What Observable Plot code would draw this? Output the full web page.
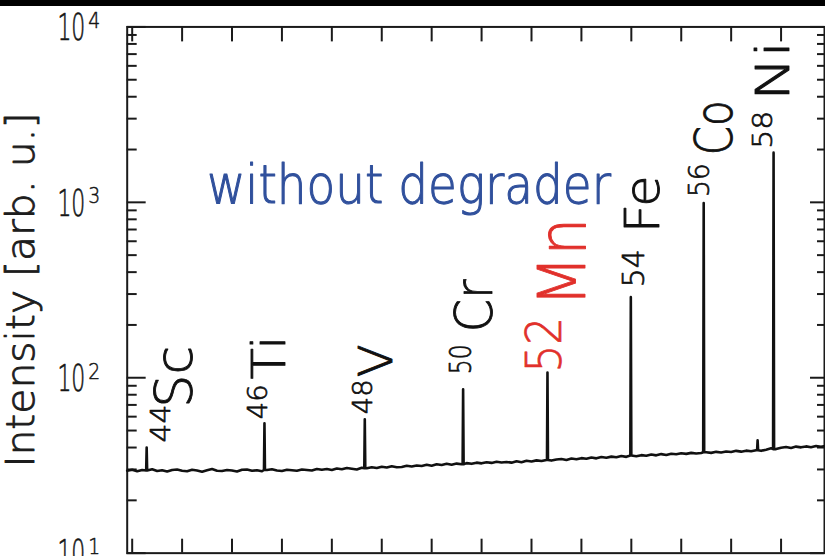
<!DOCTYPE html>
<html>
<head>
<meta charset="utf-8">
<script src="https://cdn.jsdelivr.net/npm/d3@7"></script>
<script src="https://cdn.jsdelivr.net/npm/@observablehq/plot@0.6"></script>
<style>
  html, body { margin: 0; padding: 0; background: #fff; overflow: hidden; }
  #wrap { position: relative; width: 825px; height: 556px; overflow: hidden; }
  #topbar { position: absolute; left: 0; top: 0; width: 825px; height: 6px; background: #000; z-index: 2; }
</style>
</head>
<body>
<div id="wrap"><div id="topbar"></div></div>
<script>
// Isotope peaks in the spectrum
const peakMass = ["44", "46", "48", "50", "52", "54", "56", "58"];
const peakElement = ["Sc", "Ti", "V", "Cr", "Mn", "Fe", "Co", "Ni"];
const peakChannel = [29, 265, 466, 663, 832, 999, 1145, 1285];
const peakCounts = [40, 55, 58, 86, 107, 288, 990, 1920];

// Small unlabeled bump before the Ni line
const bumpChannel = [1253];
const bumpCounts = [44];

// Background level, one reading every 10 channels starting at channel -10
const bgStart = -10;
const bgStep = 10;
const background = [
  29.5, 29.9, 29.3, 29.8, 29.6, 30.1, 29.4, 29.7, 29.2, 29.8,
  30.0, 29.5, 29.3, 29.9, 29.6, 29.1, 29.7, 30.2, 29.5, 29.4,
  29.8, 29.6, 29.2, 29.9, 30.0, 29.5, 29.7, 29.3, 29.8, 30.1,
  29.6, 29.4, 29.9, 29.7, 29.5, 30.0, 29.8, 29.6, 30.2,
  29.9, 30.2, 29.8, 30.4, 30.1, 30.6, 30.3, 30.0, 30.7, 30.5,
  30.9, 30.6, 31.1, 30.8, 31.3, 30.9, 31.0, 31.5, 31.2, 31.6,
  31.4, 31.9, 31.5, 32.1, 31.8, 32.3, 31.9, 32.4, 32.1, 32.6,
  32.3, 32.8, 32.5, 33.0, 32.7, 33.2, 32.9,
  33.1, 32.8, 33.4, 33.0, 33.6, 33.3, 33.8, 33.5, 34.0, 33.7,
  34.2, 34.4, 34.0, 34.6, 34.3, 34.8, 34.5, 35.1, 34.7, 35.3,
  35.0, 35.5, 35.2, 35.8, 35.4, 36.0, 35.7, 36.2, 35.9, 36.5,
  36.1, 36.7, 36.3, 36.9, 36.6, 37.1, 36.8, 37.3, 37.0,
  37.2, 37.6, 37.3, 37.8, 37.5, 38.0, 37.7, 38.3, 37.9, 38.4,
  38.1, 38.6, 38.3, 38.9, 39.6, 39.2, 39.9, 40.3, 39.8, 40.5,
  40.1, 40.6, 40.2, 40.8, 40.4, 40.9
];

// Axis ticks
const yMajor = [10, 100, 1000, 10000];
const yMinor = [2, 3, 4, 5, 6, 7, 8, 9].flatMap((m) => [10, 100, 1000].map((d) => m * d));
const xTicks = d3.range(0, 1301, 100);

const yTitle = "Intensity [arb. u.]";
const note = "without degrader";

// Assemble the spectrum: background readings plus a narrow spike per line
const bg = background.map((v, i) => ({ch: bgStart + i * bgStep, counts: v}));
const nearestBg = (c) => bg[Math.max(0, Math.min(bg.length - 1, Math.round((c - bgStart) / bgStep)))].counts;
const spikes = [...peakChannel.map((c, i) => [c, peakCounts[i]]), ...bumpChannel.map((c, i) => [c, bumpCounts[i]])]
  .flatMap(([c, v]) => [
    {ch: c - 1, counts: nearestBg(c)},
    {ch: c, counts: v},
    {ch: c + 1, counts: nearestBg(c)}
  ]);
const spectrum = [...bg, ...spikes].sort((a, b) => a.ch - b.ch);

const peaks = peakMass.map((m, i) => ({mass: m, element: peakElement[i], ch: peakChannel[i], counts: peakCounts[i]}));

// Label placement relative to each spike tip (pixels) and lengths of the two text parts
const labelLayout = [
  {mdx: 23, mdy: -5, mlen: 38, mfs: 27, edx: 45, edy: -40, elen: 62, efs: 52},
  {mdx: 3, mdy: -4, mlen: 35, mfs: 27, edx: 21, edy: -44, elen: 44, efs: 46},
  {mdx: 7, mdy: -5, mlen: 35, mfs: 27, edx: 27, edy: -42, elen: 33, efs: 46},
  {mdx: 8, mdy: -15, mlen: 30, mfs: 30, edx: 29, edy: -57, elen: 53, efs: 52},
  {mdx: 14, mdy: 0, mlen: 56, mfs: 50, edx: 38, edy: -66, elen: 89, efs: 66},
  {mdx: 13, mdy: -10, mlen: 38, mfs: 30, edx: 28, edy: -64, elen: 58, efs: 48},
  {mdx: 5, mdy: -6, mlen: 34, mfs: 28, edx: 28, edy: -48, elen: 55, efs: 52},
  {mdx: -2, mdy: -4, mlen: 38, mfs: 27, edx: 15, edy: -52, elen: 60, efs: 46}
];
const labelColor = (el) => (el === "Mn" ? "#e1302b" : "#111");

const xDom = [-10, 1387];
const ink = "#1a1a1a";
const up = (v, px) => v * Math.pow(10, px / 176);

// Light face, thickened slightly with a stroke of the same colour
const face = (color, width) => ({fontWeight: 300, fill: color, stroke: color, strokeWidth: width, paintOrder: "stroke"});

const labelMarks = peaks.flatMap((p, i) => {
  const L = labelLayout[i];
  const c = labelColor(p.element);
  return [
    Plot.text([p], {x: "ch", y: "counts", text: "mass", rotate: -90, textAnchor: "start", lineAnchor: "bottom",
      dx: L.mdx, dy: L.mdy, fontSize: L.mfs, ...face(c, 0.7), ariaDescription: "mass-" + i}),
    Plot.text([p], {x: "ch", y: "counts", text: "element", rotate: -90, textAnchor: "start", lineAnchor: "bottom",
      dx: L.edx, dy: L.edy, fontSize: L.efs, ...face(c, 0.9), ariaDescription: "element-" + i})
  ];
});

const chart = Plot.plot({
  width: 827,
  height: 556,
  marginLeft: 127,
  marginRight: 1,
  marginTop: 26.5,
  marginBottom: 2,
  x: {domain: xDom, axis: null},
  y: {type: "log", domain: [10, 10000], axis: null},
  style: {background: "transparent", fontFamily: "'DejaVu Sans', sans-serif", overflow: "visible"},
  marks: [
    Plot.ruleY(yMajor, {x1: xDom[0], x2: xDom[0] + 38, stroke: ink, strokeWidth: 2}),
    Plot.ruleY(yMinor, {x1: xDom[0], x2: xDom[0] + 20, stroke: ink, strokeWidth: 2}),
    Plot.ruleY(yMajor, {x1: xDom[1] - 28, x2: xDom[1], stroke: ink, strokeWidth: 2}),
    Plot.ruleY(yMinor, {x1: xDom[1] - 14, x2: xDom[1], stroke: ink, strokeWidth: 2}),
    Plot.ruleX(xTicks, {y1: 10000, y2: up(10000, -15), stroke: ink, strokeWidth: 2}),
    Plot.ruleX(xTicks, {y1: 10, y2: up(10, 14), stroke: ink, strokeWidth: 2}),
    Plot.frame({stroke: ink, strokeWidth: 2}),
    Plot.line(spectrum, {x: "ch", y: "counts", stroke: "#111", strokeWidth: 2.6, curve: "linear"}),
    Plot.text(yMajor, {x: xDom[0], y: (d) => d, text: () => "10", textAnchor: "end", lineAnchor: "middle",
      dx: -42, dy: 1.5, fontSize: 37, ...face("#151515", 0.7), ariaDescription: "tick-base"}),
    Plot.text(yMajor, {x: xDom[0], y: (d) => d, text: (d) => String(Math.round(Math.log10(d))), textAnchor: "start",
      lineAnchor: "top", dx: -39, dy: -14, fontSize: 21, ...face("#151515", 0.5), ariaDescription: "tick-exp"}),
    Plot.text([yTitle], {frameAnchor: "left", text: (d) => d, rotate: -90, textAnchor: "middle", lineAnchor: "bottom",
      dx: -93, fontSize: 40, ...face("#1d1d1d", 0.9), ariaDescription: "y-title"}),
    Plot.text([note], {frameAnchor: "top-left", text: (d) => d, textAnchor: "start", lineAnchor: "bottom",
      dx: 80, dy: 176.5, fontSize: 53, ...face("#30509c", 1.1), ariaDescription: "note"}),
    ...labelMarks
  ]
});

// Fit text runs to their drawn lengths
const fit = (key, length) => {
  d3.select(chart).selectAll(`g[aria-description="${key}"] text`)
    .attr("textLength", length)
    .attr("lengthAdjust", "spacingAndGlyphs");
};
fit("tick-base", 28);
fit("tick-exp", 12);
fit("y-title", 356);
fit("note", 405);
labelLayout.forEach((L, i) => { fit("mass-" + i, L.mlen); fit("element-" + i, L.elen); });

document.getElementById("wrap").appendChild(chart);
chart.style.position = "absolute";
chart.style.left = "0px";
chart.style.top = "0px";
</script>
</body>
</html>
